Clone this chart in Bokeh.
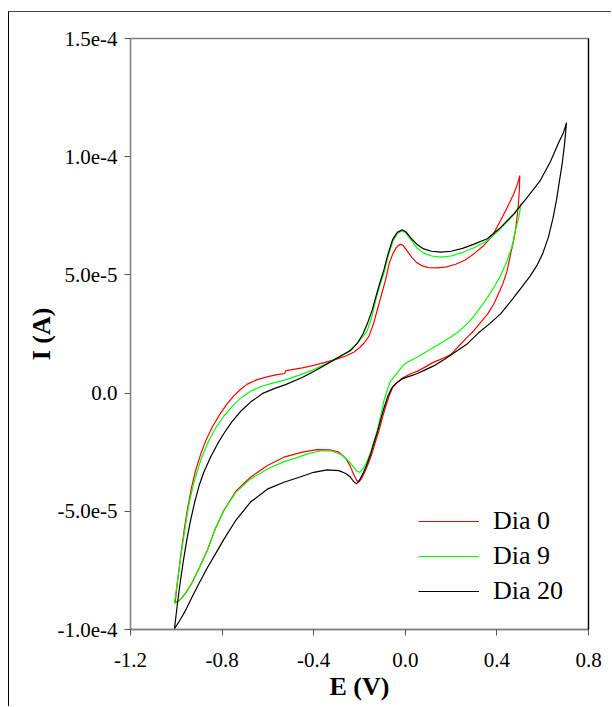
from bokeh.plotting import figure
from bokeh.models import FixedTicker, PrintfTickFormatter, CustomJSTickFormatter, LinearAxis
from bokeh.embed import file_html
from bokeh.resources import INLINE

# ---- data (E in V, I in units of 1e-5 A) ----
e_dia0 = [-1.005, -0.995, -0.985, -0.975, -0.965, -0.952, -0.935, -0.915, -0.894, -0.87, -0.84, -0.81, -0.78,
          -0.75, -0.72, -0.69, -0.65, -0.60, -0.56, -0.527, -0.522, -0.50, -0.45, -0.40, -0.35, -0.30, -0.26,
          -0.225, -0.20, -0.18, -0.159, -0.14, -0.12, -0.10, -0.087, -0.07, -0.055, -0.04, -0.03, -0.021, -0.01,
          0.0, 0.015, 0.03, 0.05, 0.075, 0.10, 0.139, 0.18, 0.22, 0.26, 0.30, 0.34, 0.38, 0.416, 0.445, 0.474,
          0.49, 0.50,
          0.498, 0.494, 0.488, 0.481, 0.472, 0.46, 0.445, 0.425, 0.40, 0.387, 0.36, 0.33, 0.30, 0.27, 0.23,
          0.197, 0.16, 0.124, 0.09, 0.052, 0.023, -0.01, -0.035, -0.055, -0.07, -0.085, -0.10, -0.115, -0.13,
          -0.145, -0.16, -0.175, -0.19, -0.203, -0.212, -0.225, -0.24, -0.26, -0.29, -0.33, -0.385, -0.45,
          -0.53, -0.60, -0.676, -0.74, -0.793, -0.83, -0.865, -0.90, -0.93, -0.955, -0.975, -0.99, -1.005]
i_dia0 = [-8.85, -8.0, -7.2, -6.45, -5.75, -4.95, -4.05, -3.25, -2.6, -1.98, -1.38, -0.9, -0.48,
          -0.13, 0.15, 0.38, 0.56, 0.70, 0.78, 0.83, 0.95, 0.98, 1.07, 1.17, 1.30, 1.44, 1.57,
          1.73, 1.92, 2.12, 2.40, 2.90, 3.60, 4.30, 4.76, 5.50, 5.88, 6.15, 6.25, 6.29, 6.25,
          6.12, 5.92, 5.72, 5.52, 5.38, 5.31, 5.30, 5.34, 5.45, 5.62, 5.89, 6.22, 6.65, 7.30, 7.85, 8.43,
          8.85, 9.20,
          8.6, 8.0, 7.45, 6.88, 6.4, 5.9, 5.19, 4.6, 4.05, 3.78, 3.35, 3.0, 2.65, 2.36, 1.95,
          1.62, 1.45, 1.31, 1.12, 0.92, 0.82, 0.65, 0.45, 0.25, -0.1, -0.55, -1.05, -1.6, -2.05,
          -2.55, -2.95, -3.3, -3.6, -3.77, -3.7, -3.45, -3.1, -2.75, -2.5, -2.4, -2.39, -2.5,
          -2.71, -3.05, -3.56, -4.15, -4.97, -5.75, -6.66, -7.4, -8.0, -8.4, -8.65, -8.8, -8.85]

e_dia9 = [-1.008, -0.995, -0.985, -0.974, -0.96, -0.945, -0.925, -0.894, -0.86, -0.83, -0.793, -0.75, -0.71,
          -0.676, -0.63, -0.58, -0.523, -0.47, -0.41, -0.35, -0.30, -0.25, -0.21, -0.18, -0.166, -0.15, -0.13,
          -0.11, -0.094, -0.075, -0.055, -0.035, -0.015, 0.0, 0.02, 0.05, 0.08, 0.115, 0.154, 0.2, 0.25, 0.30,
          0.35, 0.40, 0.44, 0.474, 0.495, 0.506,
          0.496, 0.481, 0.467, 0.445, 0.416, 0.387, 0.358, 0.328, 0.30, 0.270, 0.235, 0.197, 0.16, 0.124, 0.09,
          0.052, 0.023, 0.005, -0.007, -0.02, -0.035, -0.05, -0.065, -0.08, -0.094, -0.108, -0.123, -0.14,
          -0.155, -0.17, -0.185, -0.199, -0.212, -0.228, -0.25, -0.28, -0.32, -0.37, -0.42, -0.48, -0.53,
          -0.60, -0.676, -0.74, -0.793, -0.83, -0.865, -0.90, -0.93, -0.955, -0.975, -0.99, -1.008]
i_dia9 = [-8.9, -7.95, -7.25, -6.5, -5.6, -4.7, -3.85, -2.85, -2.05, -1.5, -0.98, -0.5, -0.15,
          0.08, 0.28, 0.42, 0.56, 0.74, 0.95, 1.22, 1.47, 1.75, 2.1, 2.45, 2.65, 3.1, 3.9,
          4.6, 5.05, 5.8, 6.4, 6.75, 6.86, 6.8, 6.55, 6.15, 5.92, 5.8, 5.75, 5.8, 5.95, 6.15,
          6.4, 6.8, 7.2, 7.55, 7.8, 8.03,
          7.44, 6.88, 6.24, 5.61, 4.97, 4.48, 4.03, 3.63, 3.27, 2.93, 2.62, 2.36, 2.14, 1.94, 1.74,
          1.52, 1.38, 1.28, 1.2, 1.05, 0.85, 0.68, 0.5, 0.1, -0.35, -1.0, -1.6, -2.15,
          -2.6, -2.95, -3.2, -3.35, -3.3, -3.1, -2.85, -2.6, -2.45, -2.45, -2.55, -2.75, -2.9,
          -3.2, -3.63, -4.2, -4.97, -5.75, -6.66, -7.4, -8.0, -8.4, -8.65, -8.8, -8.9]

e_dia20 = [-1.008, -0.995, -0.982, -0.97, -0.96, -0.95, -0.939, -0.92, -0.90, -0.88, -0.85, -0.82, -0.793,
           -0.76, -0.72, -0.676, -0.62, -0.57, -0.523, -0.45, -0.39, -0.33, -0.28, -0.239, -0.21, -0.185,
           -0.166, -0.145, -0.125, -0.11, -0.094, -0.075, -0.055, -0.035, -0.0135, 0.005, 0.025, 0.05, 0.08,
           0.115, 0.154, 0.2, 0.25, 0.3, 0.358, 0.41, 0.474, 0.53, 0.59, 0.634, 0.67, 0.69, 0.704,
           0.695, 0.685, 0.672, 0.66, 0.645, 0.625, 0.60, 0.575, 0.545, 0.51, 0.47, 0.416, 0.37, 0.32,
           0.27, 0.22, 0.17, 0.124, 0.08, 0.05, 0.02, -0.015, -0.04, -0.06, -0.077, -0.092, -0.107, -0.122,
           -0.137, -0.152, -0.167, -0.182, -0.198, -0.213, -0.225, -0.24, -0.26, -0.29, -0.341, -0.4, -0.46,
           -0.53, -0.60, -0.676, -0.74, -0.793, -0.829, -0.865, -0.897, -0.93, -0.96, -0.985, -1.008]
i_dia20 = [-9.97, -8.9, -7.95, -7.15, -6.55, -6.0, -5.45, -4.62, -3.9, -3.35, -2.7, -2.15, -1.72,
           -1.25, -0.78, -0.38, 0.0, 0.2, 0.36, 0.66, 0.97, 1.3, 1.58, 1.8, 2.1, 2.5,
           2.93, 3.5, 4.2, 4.7, 5.19, 5.9, 6.5, 6.8, 6.91, 6.8, 6.55, 6.3, 6.1,
           6.0, 5.96, 6.0, 6.12, 6.3, 6.53, 6.95, 7.58, 8.25, 9.0, 9.8, 10.6, 11.0, 11.44,
           10.5, 9.7, 8.9, 8.15, 7.4, 6.6, 5.9, 5.4, 4.95, 4.5, 4.0, 3.35, 2.95, 2.55,
           2.08, 1.75, 1.42, 1.15, 0.95, 0.82, 0.72, 0.6, 0.42, 0.2, -0.15, -0.6, -1.1, -1.65,
           -2.1, -2.6, -3.0, -3.35, -3.65, -3.84, -3.75, -3.55, -3.4, -3.28, -3.25, -3.35, -3.55,
           -3.77, -4.05, -4.61, -5.38, -6.2, -6.8, -7.4, -7.98, -8.6, -9.2, -9.62, -9.97]

series_names = ["Dia 0", "Dia 9", "Dia 20"]
series_colors = ["#ff0000", "#00ff00", "#000000"]
x_ticks = [-1.2, -0.8, -0.4, 0.0, 0.4, 0.8]
y_ticks = [-1.0e-4, -5.0e-5, 0.0, 5.0e-5, 1.0e-4, 1.5e-4]

SERIF = "Liberation Serif"

p = figure(width=603, height=695, x_range=(-1.2, 0.8), y_range=(-1.0e-4, 1.5e-4),
           output_backend="svg", toolbar_location=None,
           min_border_left=121, min_border_right=24, min_border_top=26, min_border_bottom=78,
           styles={"border-left": "1px solid #000000", "border-top": "1px solid #444444",
                   "margin-left": "8px", "margin-top": "11px"})
p.grid.visible = False
p.outline_line_color = "#808080"
p.outline_line_width = 1.3

for e, i, name, col in zip([e_dia0, e_dia9, e_dia20], [i_dia0, i_dia9, i_dia20], series_names, series_colors):
    p.line(list(e), [v * 1e-5 for v in i], line_color=col, line_width=1.2, legend_label=name)

for ax in (p.xaxis[0], p.yaxis[0]):
    ax.axis_line_color = "#808080"
    ax.axis_line_width = 1.3
    ax.major_tick_line_color = "#555555"
    ax.major_tick_in = 0
    ax.major_tick_out = 6
    ax.minor_tick_line_color = None
    ax.major_label_text_font = SERIF
    ax.major_label_text_font_size = "21px"
    ax.major_label_text_color = "#000000"
    ax.axis_label_text_font = SERIF
    ax.axis_label_text_font_style = "bold"
    ax.axis_label_text_font_size = "26px"
    ax.axis_label_text_color = "#000000"

p.xaxis[0].ticker = FixedTicker(ticks=x_ticks)
p.xaxis[0].formatter = PrintfTickFormatter(format="%.1f")
p.xaxis[0].axis_label = "E (V)"
p.xaxis[0].major_label_standoff = 17
p.xaxis[0].axis_label_standoff = 2

p.yaxis[0].ticker = FixedTicker(ticks=y_ticks)
p.yaxis[0].formatter = CustomJSTickFormatter(code="return Math.abs(tick) < 1e-12 ? '0.0' : tick.toExponential(1);")
p.yaxis[0].axis_label = "I (A)"
p.yaxis[0].major_label_standoff = 7
p.yaxis[0].axis_label_standoff = -2

right = LinearAxis(ticker=FixedTicker(ticks=[]), axis_line_color="#000000", axis_line_width=1.3,
                   major_tick_out=0, major_tick_in=0, minor_tick_out=0, minor_tick_in=0,
                   major_label_text_font_size="0px")
p.add_layout(right, "right")

leg = p.legend[0]
leg.location = (288, 23)
leg.border_line_color = None
leg.background_fill_alpha = 0
leg.padding = 0
leg.margin = 0
leg.spacing = 5
leg.glyph_width = 61
leg.glyph_height = 30
leg.label_height = 30
leg.label_standoff = 14
leg.label_text_font = SERIF
leg.label_text_font_size = "26px"
leg.label_text_color = "#000000"

open("out.html", "w").write(file_html(p, INLINE))
